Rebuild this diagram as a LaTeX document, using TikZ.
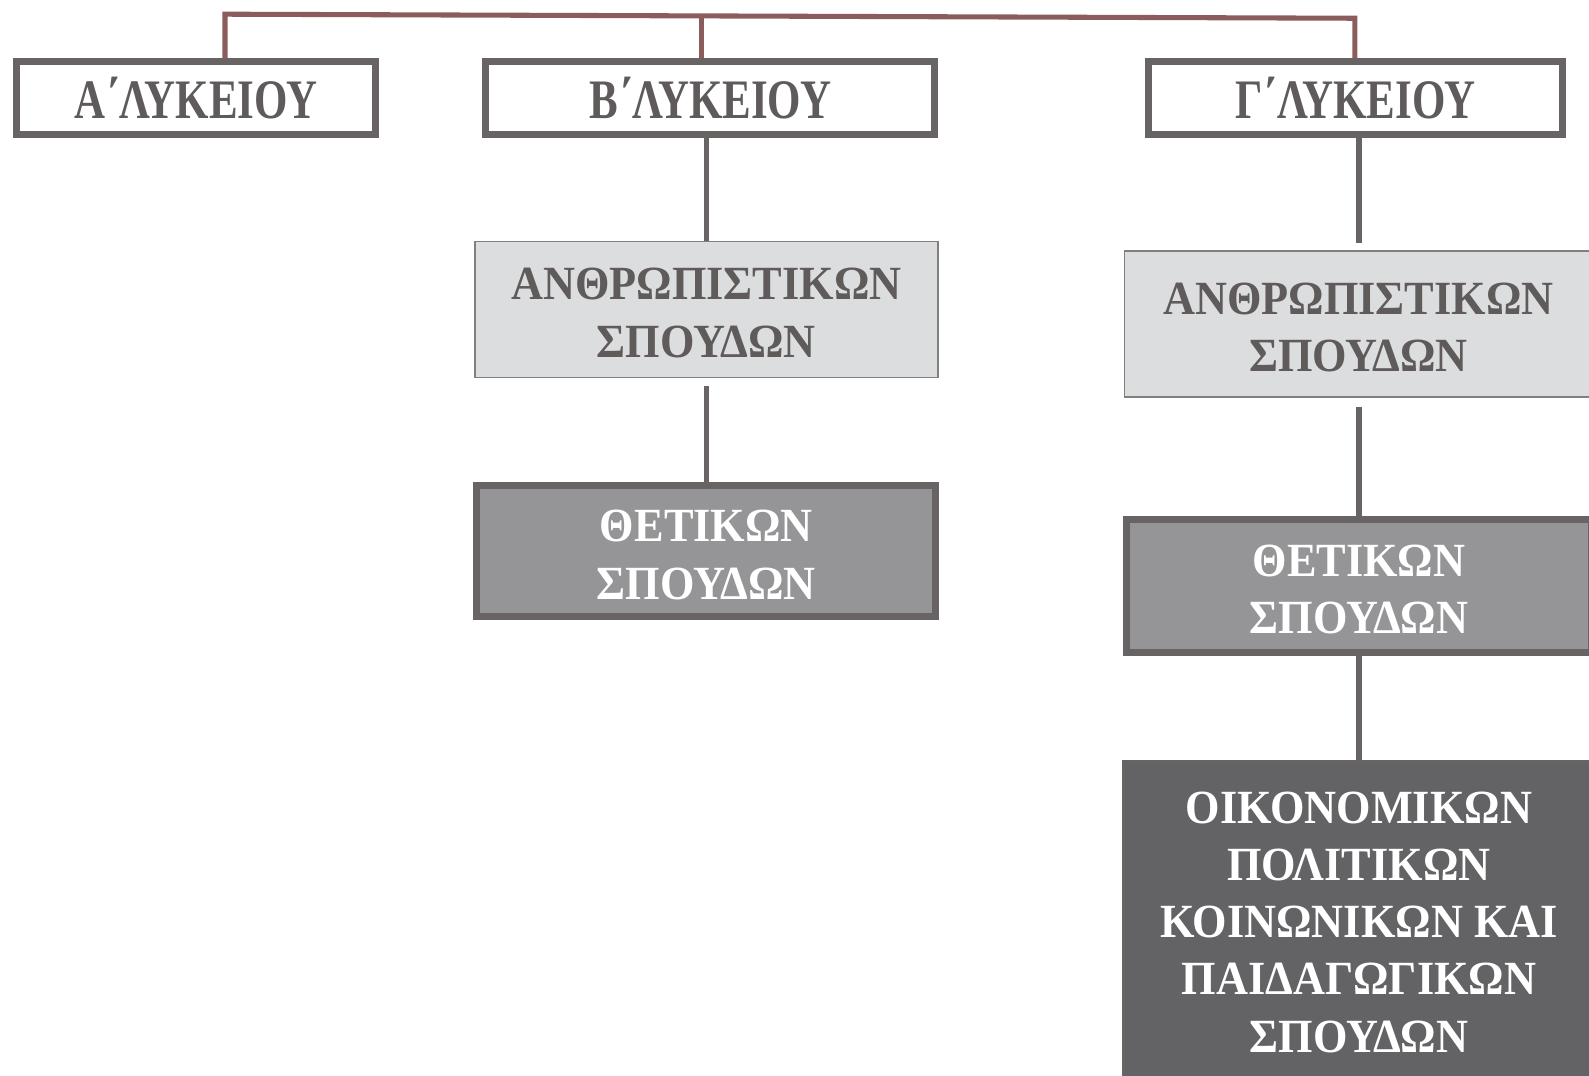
\documentclass[tikz,border=0pt]{standalone}
\usepackage{fontspec}
\setmainfont{Liberation Serif}
\newfontfamily\hdrfont{Liberation Serif}[FakeStretch=0.77]
\newfontfamily\bodyfont{Liberation Serif}[FakeStretch=0.93]
\definecolor{bordergray}{HTML}{686463}
\definecolor{txtgray}{HTML}{5F5B5B}
\definecolor{topline}{HTML}{8A5C5C}
\definecolor{lightfill}{HTML}{DCDDDF}
\definecolor{midfill}{HTML}{959597}
\definecolor{darkfill}{HTML}{636366}
\definecolor{thinborder}{HTML}{808080}
\newcommand{\twolines}[2]{\begin{tabular}{@{}c@{}}\rule{0pt}{55pt}#1\\#2\end{tabular}}
\tikzset{
  hdrbox/.style={draw=bordergray, line width=7pt, fill=white, rectangle, inner sep=0pt,
    minimum height=72pt, text=txtgray, font=\hdrfont\bfseries\fontsize{55}{60}\selectfont},
  lightbox/.style={draw=thinborder, line width=1.5pt, fill=lightfill, rectangle, inner sep=0pt,
    align=center, text=txtgray, font=\bodyfont\bfseries\fontsize{47}{57}\selectfont},
  midbox/.style={draw=bordergray, line width=7pt, fill=midfill, rectangle, inner sep=0pt,
    align=center, text=white, font=\bodyfont\bfseries\fontsize{47}{57}\selectfont},
  darkbox/.style={draw=bordergray, line width=3pt, fill=darkfill, rectangle, inner sep=0pt,
    align=center, text=white, font=\bodyfont\bfseries\fontsize{47}{56.5}\selectfont},
  conn/.style={draw=bordergray, line width=5pt},
  topconn/.style={draw=topline, line width=5pt},
}
\begin{document}
\begin{tikzpicture}[x=1pt,y=-1pt]
\useasboundingbox (0,0) rectangle (1568,1061);
% header boxes
\node[hdrbox, minimum width=354pt] (A) at (193.5,97) {Α΄ΛΥΚΕΙΟΥ};
\node[hdrbox, minimum width=443pt] (B) at (701,97) {Β΄ΛΥΚΕΙΟΥ};
\node[hdrbox, minimum width=408pt] (G) at (1337.5,97) {Γ΄ΛΥΚΕΙΟΥ};
% B column
\node[lightbox, minimum width=457pt, minimum height=134pt] (B2) at (697,305.5) {\twolines{ΑΝΘΡΩΠΙΣΤΙΚΩΝ}{ΣΠΟΥΔΩΝ}};
\node[midbox, minimum width=453pt, minimum height=129pt] (B3) at (697,544) {\twolines{ΘΕΤΙΚΩΝ}{ΣΠΟΥΔΩΝ}};
% Gamma column
\node[lightbox, minimum width=462pt, minimum height=144pt] (G2) at (1340.5,319.5) {\twolines{ΑΝΘΡΩΠΙΣΤΙΚΩΝ}{ΣΠΟΥΔΩΝ}};
\node[midbox, minimum width=459pt, minimum height=131pt] (G3) at (1341,578) {\twolines{ΘΕΤΙΚΩΝ}{ΣΠΟΥΔΩΝ}};
\node[darkbox, minimum width=465pt, minimum height=317pt] (G4) at (1341,910) {ΟΙΚΟΝΟΜΙΚΩΝ\\ΠΟΛΙΤΙΚΩΝ\\ΚΟΙΝΩΝΙΚΩΝ ΚΑΙ\\ΠΑΙΔΑΓΩΓΙΚΩΝ\\ΣΠΟΥΔΩΝ};
% top connector
\coordinate (tl) at (222,14);
\coordinate (tm) at (692,16);
\coordinate (tr) at (1337,18);
\draw[topconn] (tl |- A.north) -- (tl) -- (tr) -- (tr |- G.north);
\draw[topconn] (tm) -- (tm |- B.north);
% vertical connectors
\draw[conn] (B2.north |- B.south) -- (B2.north);
\draw[conn] ([yshift=-8pt]B2.south) -- (B3.north);
\draw[conn] (G3.north |- G.south) -- ([yshift=7pt]G2.north -| G3.north);
\draw[conn] ([yshift=-9pt]G2.south -| G3.north) -- (G3.north);
\draw[conn] (G3.south) -- (G4.north);
\end{tikzpicture}
\end{document}
